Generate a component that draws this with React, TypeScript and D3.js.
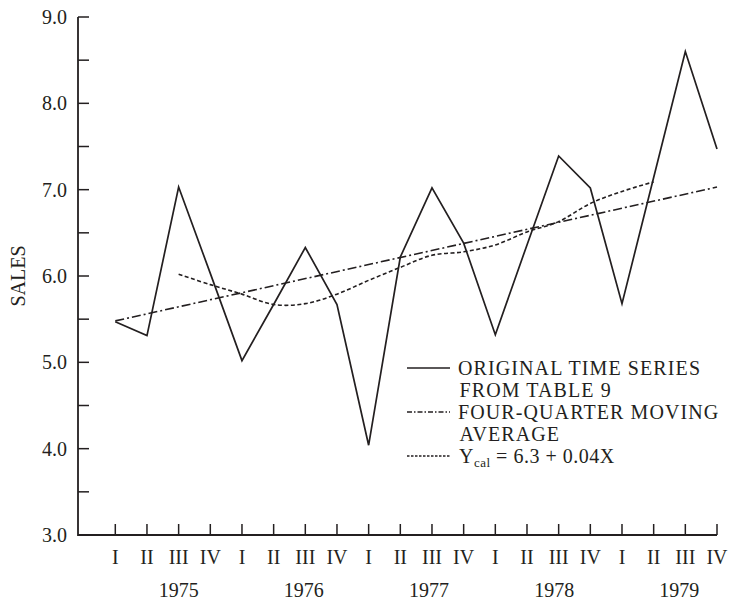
import React from "react";
import * as d3 from "d3";

const years = ["1975", "1976", "1977", "1978", "1979"];
const quarters = ["I", "II", "III", "IV"];
const yTicks = [3, 4, 5, 6, 7, 8, 9];
const yMinorTicks = [3.5, 4.5, 5.5, 6.5, 7.5, 8.5];

// Original time series, one value per quarter 1975 I .. 1979 IV
const salesValues = [
  5.47, 5.31, 7.03, 6.03,
  5.02, 5.67, 6.33, 5.67,
  4.04, 6.22, 7.02, 6.38,
  5.32, 6.36, 7.39, 7.02,
  5.68, 7.14, 8.6, 7.47,
];
// Four-quarter moving average (dotted), from 1975 III to 1979 II
const movingAvgStart = 2;
const movingAvgValues = [
  6.02, 5.9, 5.79, 5.67, 5.68, 5.79, 5.95, 6.1,
  6.24, 6.28, 6.36, 6.51, 6.63, 6.84, 6.98, 7.09,
];
// Trend line (dash-dot), endpoints at 1975 I and 1979 IV
const trendIdx = [0, 19];
const trendValues = [5.48, 7.03];

const legendItems = [
  { lines: ["ORIGINAL TIME SERIES", "FROM TABLE 9"], dash: "none" },
  { lines: ["FOUR-QUARTER MOVING", "AVERAGE"], dash: "5,2,1.5,2" },
  { lines: ["Ycal"], dash: "2.5,1.5" },
];

export default function App() {
  const W = 733, H = 602;
  const ink = "#231f20";
  const font = "'Liberation Serif', 'Times New Roman', serif";
  const axisX = 78;
  const n = salesValues.length;
  const x = d3.scaleLinear().domain([0, n - 1]).range([115.3, 717]);
  const y = d3.scaleLinear().domain([3, 9]).range([535, 17]);

  const line = d3.line<number>().x((_, i) => x(i)).y((d) => y(d));
  const maLine = d3
    .line<number>()
    .x((_, i) => x(i + movingAvgStart))
    .y((d) => y(d))
    .curve(d3.curveCatmullRom.alpha(0.5));
  const trendLine = d3
    .line<number>()
    .x((_, i) => x(trendIdx[i]))
    .y((d) => y(d));

  const qLabels = years.flatMap((yr) => quarters.map((q) => q));

  return (
    <svg width={W} height={H} style={{ position: "absolute", left: 0, top: 0 }}>
      <rect width={W} height={H} fill="#fff" />
      {/* axes */}
      <path
        d={`M${axisX},${y(9)}V${y(3)}H${x(n - 1)}`}
        fill="none"
        stroke={ink}
        strokeWidth={1.8}
      />
      {[...yTicks, ...yMinorTicks].map((t) => (
        <line key={"yt" + t} x1={axisX} x2={axisX + 11} y1={y(t)} y2={y(t)} stroke={ink} strokeWidth={1.5} />
      ))}
      {yTicks.map((t) => (
        <text
          key={"yl" + t}
          x={67}
          y={y(t)}
          dy="0.35em"
          textAnchor="end"
          fontFamily={font}
          fontSize={20}
          fill={ink}
        >
          {d3.format(".1f")(t)}
        </text>
      ))}
      {qLabels.map((q, i) => (
        <g key={"q" + i}>
          <line x1={x(i)} x2={x(i)} y1={y(3)} y2={y(3) - 11} stroke={ink} strokeWidth={1.5} />
          <text x={x(i)} y={564} textAnchor="middle" fontFamily={font} fontSize={20} fill={ink}>
            {q}
          </text>
        </g>
      ))}
      {years.map((yr, k) => (
        <text key={yr} x={x(k * 4 + 2) - 1.5 * k} y={597} textAnchor="middle" fontFamily={font} fontSize={20} fill={ink}>
          {yr}
        </text>
      ))}
      <text
        transform={`translate(25,${y(6)}) rotate(-90)`}
        textAnchor="middle"
        fontFamily={font}
        fontSize={20}
        fill={ink}
      >
        SALES
      </text>

      {/* series */}
      <path d={line(salesValues) || ""} fill="none" stroke={ink} strokeWidth={1.7} strokeLinejoin="miter" />
      <path d={trendLine(trendValues) || ""} fill="none" stroke={ink} strokeWidth={1.6} strokeDasharray="9,3,2,3" />
      <path d={maLine(movingAvgValues) || ""} fill="none" stroke={ink} strokeWidth={1.6} strokeDasharray="4,2.5" />

      {/* legend */}
      {legendItems.map((it, k) => {
        const baseY = 375 + k * 44;
        const lineY = baseY - 7;
        return (
          <g key={"lg" + k}>
            <line
              x1={407}
              x2={450}
              y1={lineY}
              y2={lineY}
              stroke={ink}
              strokeWidth={k === 0 ? 1.7 : 1.3}
              strokeDasharray={it.dash}
            />
            {k < 2 ? (
              it.lines.map((t, j) => (
                <text
                  key={j}
                  x={458 + (j ? 1.5 : 0)}
                  y={baseY + j * 22}
                  fontFamily={font}
                  fontSize={20}
                  letterSpacing={1.1}
                  fill={ink}
                >
                  {t}
                </text>
              ))
            ) : (
              <text x={459} y={baseY} fontFamily={font} fontSize={20} fill={ink} letterSpacing={0.5}>
                Y
                <tspan fontSize={13} dy={4}>cal</tspan>
                <tspan dy={-4}> = 6.3 + 0.04X</tspan>
              </text>
            )}
          </g>
        );
      })}
    </svg>
  );
}
